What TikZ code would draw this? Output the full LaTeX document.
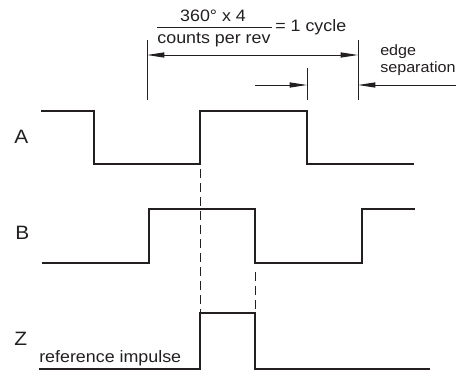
\documentclass[tikz,border=0pt]{standalone}
\usepackage{fontspec}
\setmainfont{Liberation Sans}[FakeStretch=1.08]
\usepackage{tikz}
\usetikzlibrary{arrows.meta}
\definecolor{inkgray}{HTML}{231F20}
\tikzset{
  wave/.style={draw=inkgray, line width=1.6pt, line join=miter},
  tickline/.style={draw=inkgray, line width=0.7pt},
  syncline/.style={draw=inkgray, line width=0.75pt, dash pattern=on 6.5pt off 4pt},
  dimline/.style={draw=inkgray, line width=0.7pt, -{Triangle[length=13pt,width=3.8pt]}},
  dimboth/.style={draw=inkgray, line width=0.7pt, {Triangle[length=13pt,width=3.8pt]}-{Triangle[length=13pt,width=3.8pt]}},
  txt/.style={inner sep=0pt, text=inkgray, font=\fontsize{12.4}{14}\selectfont},
  sidetxt/.style={txt, font=\fontsize{11.2}{13}\selectfont, anchor=base west},
  chan/.style={inner sep=0pt, text=inkgray, font=\fontsize{14.5}{16}\selectfont, anchor=base west}
}

\begin{document}
\begin{tikzpicture}[x=0.75pt,y=-0.75pt]
  \path[use as bounding box] (0,0) rectangle (456,374);

  % channel labels
  \node[chan] (labA) at (14,143) {A};
  \node[chan] (labB) at (15,239) {B};
  \node[chan] (labZ) at (14,345) {Z};
  \node[txt, anchor=base west] (refimp) at (39,362) {reference impulse};

  % signals
  \draw[wave] (41,111) -- (94,111) -- (94,164) -- (200,164) -- (200,111)
    -- (307,111) -- (307,164) -- (414,164);
  \draw[wave] (42,263) -- (149,263) -- (149,209) -- (255,209) -- (255,263)
    -- (362,263) -- (362,209) -- (415,209);
  \draw[wave] (39,369) -- (200,369) -- (200,313) -- (255,313) -- (255,369)
    -- (430,369);

  % index alignment
  \coordinate (syncAtop) at (200,169);
  \coordinate (syncAbot) at (200,313);
  \coordinate (syncBtop) at (255,272);
  \coordinate (syncBbot) at (255,313);
  \draw[syncline] (syncAtop) -- (syncAbot);
  \draw[syncline] (syncBtop) -- (syncBbot);

  % cycle dimension
  \coordinate (cycL) at (147,40);
  \coordinate (cycLb) at (147,100);
  \coordinate (cycR) at (358,40);
  \coordinate (cycRb) at (358,100);
  \coordinate (sepL) at (307,68);
  \coordinate (sepLb) at (307,100);
  \draw[tickline] (cycL) -- (cycLb);
  \draw[tickline] (cycR) -- (cycRb);
  \draw[tickline] (sepL) -- (sepLb);
  \draw[dimboth] (147,55) -- (358,55);

  \coordinate (sepin) at (255,85);
  \coordinate (sepout) at (456,85);
  \draw[dimline] (sepin) -- (307,85);
  \draw[dimline] (sepout) -- (358,85);

  % texts
  \node[txt, anchor=base] (numer) at (213,21.5) {360° x 4};
  \node[txt, anchor=base] (denom) at (214,44) {counts per rev};
  \draw[draw=inkgray, line width=0.7pt] (157,27.3) -- (272,27.3);
  \node[txt, anchor=base west] (cycle) at (275,31.5) {= 1 cycle};
  \node[sidetxt] (edge) at (380,56) {edge};
  \node[sidetxt] (sepa) at (380,73) {separation};
\end{tikzpicture}
\end{document}
